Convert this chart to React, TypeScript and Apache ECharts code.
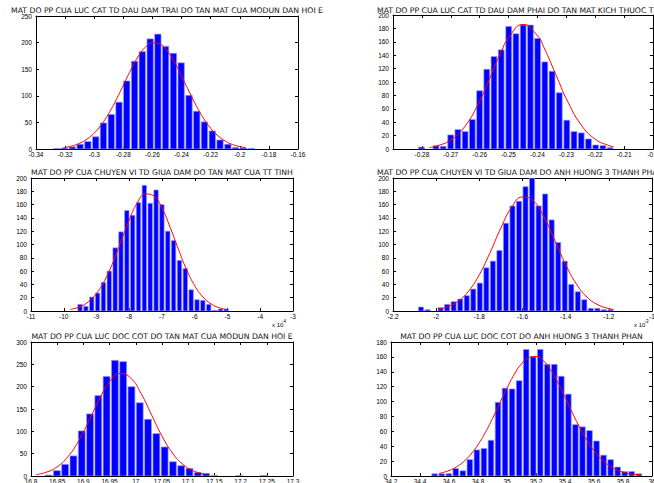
import React, { useEffect, useRef } from 'react';
import * as echarts from 'echarts';

const FONT = '"Liberation Sans", Arial, Helvetica, sans-serif';
const TITLE_FAMILY = '"DejaVu Sans", "Liberation Sans", sans-serif';

// ---------- Panel 1 ----------
const p1Title = 'MAT DO PP CUA LUC CAT TD DAU DAM TRAI DO TAN MAT CUA MODUN DAN HOI E';
const p1BinWidth = 0.00534;
const p1Centers = [-0.3254, -0.3201, -0.3147, -0.3094, -0.3041, -0.2987, -0.2934, -0.288, -0.2827, -0.2774, -0.272, -0.2667, -0.2613, -0.256, -0.2507, -0.2453, -0.24, -0.2346, -0.2293, -0.224, -0.2186, -0.2133, -0.2079, -0.2026, -0.1973, -0.1919];
const p1Counts = [1, 2, 4, 9, 14, 23, 49, 65, 88, 128, 165, 183, 207, 216, 193, 180, 162, 101, 71, 51, 34, 17, 9, 3, 2, 1];
const p1CurveX = [-0.321, -0.315, -0.31, -0.305, -0.3, -0.295, -0.29, -0.285, -0.28, -0.275, -0.27, -0.265, -0.26, -0.255, -0.25, -0.245, -0.24, -0.235, -0.23, -0.225, -0.22, -0.215, -0.21, -0.205, -0.2, -0.196];
const p1CurveY = [2.7, 5.9, 10.8, 18.5, 30, 46, 67, 92, 120, 148, 173, 191, 199.5, 197.3, 185, 164, 137, 109, 82, 58, 39, 24.9, 15, 8.5, 4.6, 2.7];
const p1XAxis = { min: -0.34, max: -0.16, interval: 0.02 };
const p1YAxis = { min: 0, max: 250, interval: 50 };

// ---------- Panel 2 ----------
const p2Title = 'MAT DO PP CUA LUC CAT TD DAU DAM PHAI DO TAN MAT KICH THUOC TD';
const p2BinWidth = 0.002513;
const p2Centers = [-0.28, -0.2775, -0.275, -0.2725, -0.2699, -0.2674, -0.2649, -0.2624, -0.2599, -0.2574, -0.2549, -0.2524, -0.2498, -0.2473, -0.2448, -0.2423, -0.2398, -0.2373, -0.2348, -0.2323, -0.2297, -0.2272, -0.2247, -0.2222, -0.2197, -0.2172, -0.2147];
const p2Counts = [3, 0, 5, 4, 21, 29, 26, 44, 87, 119, 138, 148, 183, 172, 185, 185, 165, 130, 116, 84, 43, 26, 24, 15, 6, 5, 2];
const p2CurveX = [-0.2775, -0.275, -0.27, -0.265, -0.26, -0.2575, -0.255, -0.2525, -0.25, -0.245, -0.24, -0.2375, -0.235, -0.2325, -0.23, -0.225, -0.22, -0.215, -0.2137];
const p2CurveY = [2.2, 4.3, 13.5, 34.4, 71.6, 95.5, 121, 145.6, 166, 186, 169, 149.2, 125, 99.6, 75, 36.8, 14.7, 4.7, 3.4];
const p2XAxis = { min: -0.29, max: -0.2, interval: 0.01 };
const p2YAxis = { min: 0, max: 200, interval: 20 };

// ---------- Panel 3 (x 10^-4) ----------
const p3Title = 'MAT DO PP CUA CHUYEN VI TD GIUA DAM DO TAN MAT CUA TT TINH';
const p3BinWidth = 0.1786;
const p3Centers = [-9.491, -9.312, -9.134, -8.955, -8.777, -8.598, -8.419, -8.241, -8.062, -7.884, -7.705, -7.527, -7.348, -7.169, -6.991, -6.812, -6.634, -6.455, -6.276, -6.098, -5.919, -5.741, -5.562, -5.384, -5.205, -5.026];
const p3Counts = [10, 7, 21, 27, 43, 60, 95, 119, 151, 144, 163, 189, 162, 182, 160, 120, 106, 76, 64, 32, 17, 16, 10, 1, 3, 3];
const p3CurveX = [-9.8, -9.5, -9.25, -9.0, -8.75, -8.5, -8.25, -8.0, -7.75, -7.5, -7.25, -7.0, -6.75, -6.5, -6.25, -6.0, -5.75, -5.5, -5.25, -5.0];
const p3CurveY = [2.4, 6.5, 13.8, 26.4, 46, 72.8, 104.7, 137, 162.9, 176, 173, 154.7, 125.7, 92.9, 62.4, 38, 21.1, 10.7, 4.9, 2.0];
const p3XAxis = { min: -11, max: -3, interval: 1 };
const p3YAxis = { min: 0, max: 200, interval: 20 };
const p3Exponent = '-4';

// ---------- Panel 4 (x 10^-3) ----------
const p4Title = 'MAT DO PP CUA CHUYEN VI TD GIUA DAM DO ANH HUONG 3 THANH PHAN';
const p4BinWidth = 0.03027;
const p4Centers = [-2.0684, -2.0381, -2.0079, -1.9776, -1.9473, -1.9171, -1.8868, -1.8565, -1.8262, -1.796, -1.7657, -1.7354, -1.7052, -1.6749, -1.6446, -1.6144, -1.5841, -1.5538, -1.5235, -1.4933, -1.463, -1.4327, -1.4025, -1.3722, -1.3419, -1.3117, -1.2814, -1.2511, -1.2208, -1.1906];
const p4Counts = [6, 2, 0, 5, 10, 14, 18, 23, 33, 42, 65, 75, 91, 132, 158, 165, 187, 200, 158, 176, 137, 103, 75, 40, 29, 17, 4, 4, 2, 2];
const p4CurveX = [-1.99, -1.95, -1.9, -1.85, -1.8, -1.75, -1.7, -1.65, -1.6, -1.55, -1.5, -1.45, -1.4, -1.35, -1.3, -1.25, -1.2, -1.178];
const p4CurveY = [2.8, 6.1, 14.3, 29.9, 54.7, 88, 125, 156, 171.4, 165.8, 141, 105.8, 69.8, 40.5, 20.7, 9.3, 3.7, 2.4];
const p4XAxis = { min: -2.2, max: -1, interval: 0.2 };
const p4YAxis = { min: 0, max: 200, interval: 20 };
const p4Exponent = '-3';

// ---------- Panel 5 ----------
const p5Title = 'MAT DO PP CUA LUC DOC COT DO TAN MAT CUA MODUN DAN HOI E';
const p5BinWidth = 0.01582;
const p5Centers = [16.8343, 16.8501, 16.8659, 16.8818, 16.8976, 16.9134, 16.9292, 16.945, 16.9609, 16.9767, 16.9925, 17.0083, 17.0241, 17.04, 17.0558, 17.0716, 17.0874, 17.1032, 17.1191, 17.1349, 17.1507, 17.1665, 17.1823, 17.1982, 17.214, 17.2298, 17.2456, 17.2614];
const p5Counts = [2, 12, 26, 45, 101, 139, 180, 223, 259, 256, 200, 164, 127, 95, 65, 32, 23, 17, 8, 6, 1, 0, 0, 1, 0, 0, 1, 0];
const p5CurveX = [16.81, 16.83, 16.85, 16.87, 16.89, 16.91, 16.93, 16.95, 16.97, 16.99, 17.01, 17.03, 17.05, 17.07, 17.09, 17.11, 17.13];
const p5CurveY = [3.3, 8.8, 20.6, 42.6, 76.7, 122, 171, 211, 229.7, 219.7, 185, 137, 89.4, 51.3, 25.9, 11.5, 4.5];
const p5XAxis = { min: 16.8, max: 17.3, interval: 0.05 };
const p5YAxis = { min: 0, max: 300, interval: 50 };

// ---------- Panel 6 ----------
const p6Title = 'MAT DO PP CUA LUC DOC COT DO ANH HUONG 3 THANH PHAN';
const p6BinWidth = 0.04854;
const p6Centers = [34.5039, 34.5524, 34.601, 34.6495, 34.6981, 34.7466, 34.7951, 34.8437, 34.8922, 34.9408, 34.9893, 35.0378, 35.0864, 35.1349, 35.1835, 35.232, 35.2805, 35.3291, 35.3776, 35.4262, 35.4747, 35.5232, 35.5718, 35.6203, 35.6689, 35.7174, 35.7659, 35.8145, 35.863, 35.9116];
const p6Counts = [3, 3, 3, 10, 7, 22, 35, 37, 48, 99, 118, 117, 128, 170, 160, 170, 150, 150, 134, 110, 69, 66, 61, 47, 28, 22, 12, 6, 6, 3];
const p6CurveX = [34.53, 34.6, 34.65, 34.7, 34.75, 34.8, 34.85, 34.9, 34.95, 35.0, 35.05, 35.1, 35.15, 35.2, 35.25, 35.3, 35.35, 35.4, 35.45, 35.5, 35.55, 35.6, 35.65, 35.7, 35.75, 35.8, 35.85, 35.93];
const p6CurveY = [3.3, 7.3, 12.1, 19.1, 29, 42.1, 58.3, 77.2, 97.7, 118, 136.5, 150.8, 159.2, 160.7, 155, 142.8, 125.8, 106, 85.2, 65.6, 48.2, 33.9, 22.7, 14.6, 8.9, 5.2, 2.9, 1.6];
const p6XAxis = { min: 34.2, max: 36, interval: 0.2 };
const p6YAxis = { min: 0, max: 180, interval: 20 };

// ---------- layout (pixels) ----------
const grids = [
  { left: 36, top: 16, width: 262, height: 133 },
  { left: 393, top: 15, width: 260, height: 134 },
  { left: 31, top: 178, width: 262, height: 133 },
  { left: 393, top: 178, width: 259, height: 133 },
  { left: 31, top: 342, width: 262, height: 134 },
  { left: 391, top: 342, width: 261, height: 134 },
];
const titlePos = [
  { x: 167, y: 10, align: 'center' },
  { x: 377, y: 10, align: 'left' },
  { x: 162, y: 172, align: 'center' },
  { x: 377, y: 172, align: 'left' },
  { x: 162, y: 336, align: 'center' },
  { x: 521.5, y: 336, align: 'center' },
];

const panels = [
  { title: p1Title, bw: p1BinWidth, centers: p1Centers, counts: p1Counts, cx: p1CurveX, cy: p1CurveY, xa: p1XAxis, ya: p1YAxis },
  { title: p2Title, bw: p2BinWidth, centers: p2Centers, counts: p2Counts, cx: p2CurveX, cy: p2CurveY, xa: p2XAxis, ya: p2YAxis },
  { title: p3Title, bw: p3BinWidth, centers: p3Centers, counts: p3Counts, cx: p3CurveX, cy: p3CurveY, xa: p3XAxis, ya: p3YAxis },
  { title: p4Title, bw: p4BinWidth, centers: p4Centers, counts: p4Counts, cx: p4CurveX, cy: p4CurveY, xa: p4XAxis, ya: p4YAxis },
  { title: p5Title, bw: p5BinWidth, centers: p5Centers, counts: p5Counts, cx: p5CurveX, cy: p5CurveY, xa: p5XAxis, ya: p5YAxis },
  { title: p6Title, bw: p6BinWidth, centers: p6Centers, counts: p6Counts, cx: p6CurveX, cy: p6CurveY, xa: p6XAxis, ya: p6YAxis },
];

const TICK_FONT = 6.5;
const TITLE_FONT = 7.7;

function makeRender(bw: number) {
  return (_params: any, api: any) => {
    const c = api.value(0) as number;
    const h = api.value(1) as number;
    if (!h) return null;
    const a = api.coord([c - bw / 2, 0]);
    const b = api.coord([c + bw / 2, h]);
    const w = Math.max(b[0] - a[0] - 1.4, 0.6);
    return {
      type: 'rect',
      shape: { x: a[0] + 0.3, y: b[1], width: w, height: a[1] - b[1] },
      style: { fill: '#0000ff', stroke: '#9a9aff', lineWidth: 0.7 },
    };
  };
}

function buildOption() {
  const xAxis: any[] = [];
  const yAxis: any[] = [];
  const axisLine = { show: true, onZero: false, lineStyle: { color: '#000', width: 1 } };
  const tick = { show: true, inside: true, length: 3, lineStyle: { color: '#000', width: 1 } };
  panels.forEach((p, i) => {
    xAxis.push({
      type: 'value', gridIndex: i, position: 'bottom', min: p.xa.min, max: p.xa.max, interval: p.xa.interval,
      axisLine, axisTick: tick, splitLine: { show: false },
      axisLabel: { fontSize: TICK_FONT, color: '#000', fontFamily: FONT, margin: 2, showMinLabel: i !== 1, showMaxLabel: true, hideOverlap: false },
    });
    yAxis.push({
      type: 'value', gridIndex: i, position: 'left', min: p.ya.min, max: p.ya.max, interval: p.ya.interval,
      axisLine, axisTick: tick, splitLine: { show: false },
      axisLabel: { fontSize: TICK_FONT, color: '#000', fontFamily: FONT, margin: 4, showMinLabel: true, showMaxLabel: true, hideOverlap: false },
    });
  });
  panels.forEach((p, i) => {
    xAxis.push({
      type: 'value', gridIndex: i, position: 'top', min: p.xa.min, max: p.xa.max, interval: p.xa.interval,
      axisLine, axisTick: tick, splitLine: { show: false }, axisLabel: { show: false },
    });
    yAxis.push({
      type: 'value', gridIndex: i, position: 'right', min: p.ya.min, max: p.ya.max, interval: p.ya.interval,
      axisLine, axisTick: tick, splitLine: { show: false }, axisLabel: { show: false },
    });
  });

  const series: any[] = [];
  panels.forEach((p, i) => {
    series.push({
      type: 'custom', xAxisIndex: i, yAxisIndex: i, silent: true, clip: true,
      data: p.centers.map((c, j) => [c, p.counts[j]]),
      renderItem: makeRender(p.bw), z: 2,
    });
    series.push({
      type: 'line', xAxisIndex: i, yAxisIndex: i, silent: true, showSymbol: false, smooth: true,
      data: p.cx.map((x, j) => [x, p.cy[j]]),
      lineStyle: { color: '#ff0000', width: 1 }, z: 3,
    });
  });

  const title: any[] = panels.map((p, i) => ({
    text: p.title, left: titlePos[i].x, top: titlePos[i].y, textAlign: titlePos[i].align, textVerticalAlign: 'middle', padding: 0,
    textStyle: { fontSize: TITLE_FONT, fontWeight: 'normal', color: '#111', fontFamily: TITLE_FAMILY },
  }));
  const expLabel = (x: number, y: number, txt: string, size: number) => ({
    text: txt, left: x, top: y, padding: 0, textVerticalAlign: 'middle', textAlign: 'left',
    textStyle: { fontSize: size, fontWeight: 'normal', color: '#000', fontFamily: FONT },
  });
  title.push(expLabel(272, 325, 'x 10', 6));
  title.push(expLabel(282, 321.5, p3Exponent, 4.5));
  title.push(expLabel(634, 325, 'x 10', 6));
  title.push(expLabel(644.5, 321.5, p4Exponent, 4.5));

  return {
    animation: false,
    backgroundColor: '#ffffff',
    title,
    grid: grids.map((g) => ({ ...g, containLabel: false, outerBoundsMode: 'none' })),
    xAxis,
    yAxis,
    series,
  };
}

export default function App() {
  const ref = useRef<HTMLDivElement>(null);
  useEffect(() => {
    if (!ref.current) return;
    const chart = echarts.init(ref.current, undefined, { renderer: 'svg' });
    chart.setOption(buildOption() as any);
    return () => chart.dispose();
  }, []);
  return (
    <div
      ref={ref}
      style={{ position: 'absolute', left: 0, top: 0, width: 654, height: 483, background: '#fff' }}
    />
  );
}
